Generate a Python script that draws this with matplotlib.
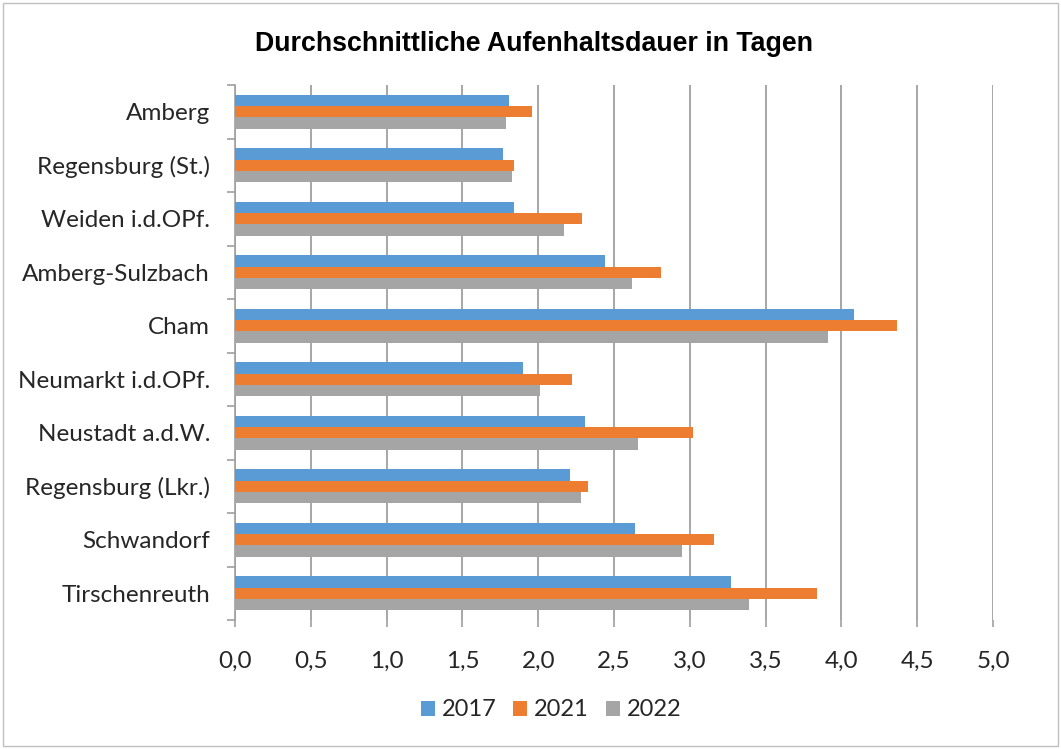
import matplotlib
matplotlib.use("Agg")
import matplotlib.pyplot as plt
import numpy as np
from matplotlib.patches import Rectangle
from matplotlib.ticker import FixedLocator

categories = ["Amberg", "Regensburg (St.)", "Weiden i.d.OPf.", "Amberg-Sulzbach",
              "Cham", "Neumarkt i.d.OPf.", "Neustadt a.d.W.", "Regensburg (Lkr.)",
              "Schwandorf", "Tirschenreuth"]
v2017 = [1.81, 1.77, 1.84, 2.44, 4.08, 1.90, 2.31, 2.21, 2.64, 3.27]
v2021 = [1.96, 1.84, 2.29, 2.81, 4.37, 2.22, 3.02, 2.33, 3.16, 3.84]
v2022 = [1.79, 1.83, 2.17, 2.62, 3.91, 2.01, 2.66, 2.28, 2.95, 3.39]
series_names = ["2017", "2021", "2022"]
colors = ["#5B9BD5", "#ED7D31", "#A5A5A5"]
xticks = [0, 0.5, 1.0, 1.5, 2.0, 2.5, 3.0, 3.5, 4.0, 4.5, 5.0]
title = "Durchschnittliche Aufenhaltsdauer in Tagen"

W, H = 1061, 749
FONT = ["Lato", "DejaVu Sans"]
FS = 17.5
fig = plt.figure(figsize=(W / 100, H / 100), dpi=100)
fig.patch.set_facecolor("white")
fig.patches.append(Rectangle((3 / W, 3 / H), 1 - 6 / W, 1 - 6 / H, transform=fig.transFigure,
                             fill=False, edgecolor="#BFBFBF", linewidth=1.0))

ax = fig.add_axes([235 / W, 1 - 620 / H, (993 - 235) / W, (620 - 85) / H])
y = np.arange(len(categories))
h = 0.21
for k, (vals, name, c) in enumerate(zip([v2017, v2021, v2022], series_names, colors)):
    ax.barh(y + (k - 1) * h, vals, height=h, color=c, label=name, zorder=3)

ax.set_xlim(0, 5.0)
ax.set_ylim(len(categories) - 0.5, -0.5)
ax.set_xticks(xticks)
ax.set_xticklabels([f"{t:.1f}".replace(".", ",") for t in xticks])
ax.set_yticks(y)
ax.set_yticklabels(categories)
ax.yaxis.set_minor_locator(FixedLocator(np.arange(-0.5, len(categories), 1.0)))

for lab in ax.get_yticklabels() + ax.get_xticklabels():
    lab.set_fontfamily(FONT)
    lab.set_fontsize(FS)
    lab.set_color("#262626")

ax.tick_params(axis="y", which="major", length=0, pad=18)
ax.tick_params(axis="y", which="minor", length=6, color="#A0A0A0", width=1.2)
ax.tick_params(axis="x", which="major", length=5, color="#A0A0A0", width=1.2, pad=17)

ax.grid(axis="x", color="#A6A6A6", linewidth=1.4, zorder=0)
ax.set_axisbelow(True)
for s in ["top", "right", "bottom"]:
    ax.spines[s].set_visible(False)
ax.spines["left"].set_color("#A0A0A0")
ax.spines["left"].set_linewidth(1.2)

fig.text(0.5 * (253 + 815) / W, 1 - 44 / H, title, ha="center", va="center",
         fontsize=19.3, fontweight="bold", family=["Liberation Sans", "DejaVu Sans"], color="#000000")

leg = fig.legend(loc="center", bbox_to_anchor=(551 / W, 1 - 710 / H), ncol=3, frameon=False,
                 prop={"family": FONT, "size": 17},
                 handlelength=0.6, handleheight=0.6, handletextpad=0.3, columnspacing=0.7)
for t in leg.get_texts():
    t.set_color("#262626")

fig.savefig("out.png", dpi=100, facecolor="white")
